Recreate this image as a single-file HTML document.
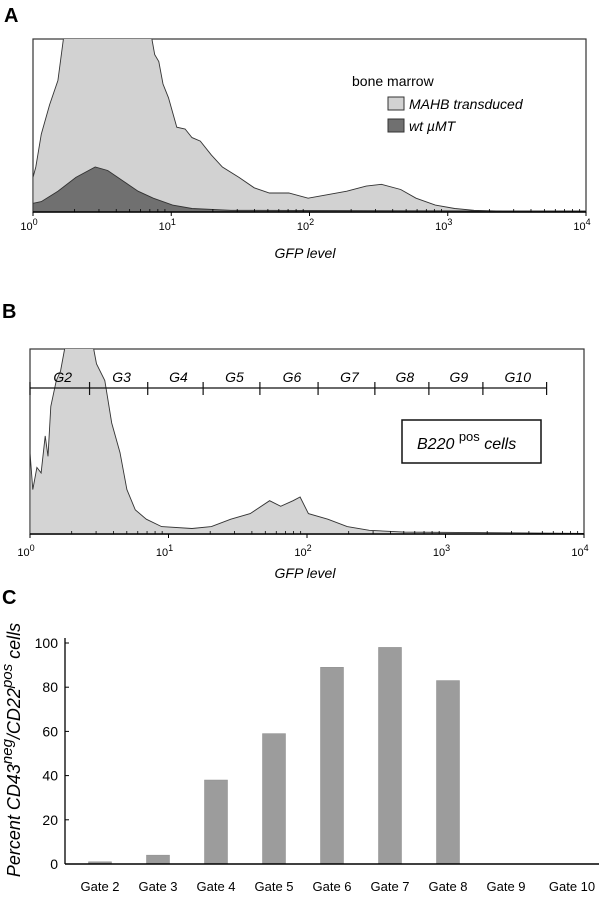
<!DOCTYPE html>
<html><head><meta charset="utf-8"><style>
body{margin:0;background:#fff;width:608px;height:900px;overflow:hidden}
svg{display:block;font-family:"Liberation Sans",sans-serif}
</style></head><body>
<svg id="fig" width="608" height="900" xmlns="http://www.w3.org/2000/svg">
<text x="4" y="22" font-size="20" font-weight="bold">A</text>
<text x="2" y="318" font-size="20" font-weight="bold">B</text>
<text x="2" y="604" font-size="20" font-weight="bold">C</text>
<g id="pa"></g>
<g id="pb"></g>
<g id="pc"></g>
</svg>
<script>
// Panel A data (x in decades of GFP level, y as fraction of plot height)
const aMahbX=[0,0.02,0.06,0.12,0.18,0.22,0.3,0.5,0.8,0.86,0.88,0.91,0.94,0.98,1.04,1.10,1.15,1.21,1.29,1.37,1.49,1.60,1.71,1.85,1.99,2.13,2.27,2.41,2.52,2.66,2.77,2.91,3.05,3.19,3.38,4];
const aMahbY=[0.2,0.26,0.45,0.62,0.76,1.0,1.3,1.4,1.2,1.0,0.91,0.87,0.74,0.66,0.49,0.48,0.43,0.41,0.33,0.26,0.2,0.14,0.11,0.11,0.08,0.10,0.12,0.15,0.16,0.13,0.08,0.04,0.02,0.01,0.005,0.005];
const aWtX=[0,0.06,0.18,0.31,0.45,0.54,0.65,0.76,0.87,1.01,1.15,1.43,4];
const aWtY=[0.05,0.06,0.12,0.2,0.26,0.24,0.18,0.12,0.08,0.04,0.02,0.01,0.005];
// Panel B data
const bX=[0,0.02,0.05,0.08,0.11,0.13,0.15,0.19,0.22,0.25,0.28,0.4,0.46,0.48,0.54,0.59,0.65,0.7,0.76,0.84,0.95,1.17,1.31,1.45,1.59,1.73,1.81,1.9,1.95,2.01,2.15,2.29,2.45,2.7,4];
const bY=[0.44,0.24,0.36,0.33,0.53,0.42,0.69,0.83,0.88,1.0,1.05,1.05,1.0,0.92,0.83,0.6,0.44,0.24,0.13,0.08,0.04,0.03,0.04,0.08,0.11,0.18,0.15,0.18,0.2,0.11,0.08,0.04,0.02,0.01,0.003];
const gateNames=["G2","G3","G4","G5","G6","G7","G8","G9","G10"];
const gateBounds=[0,0.43,0.85,1.25,1.66,2.08,2.49,2.88,3.27,3.73];
// Panel C data
const cCats=["Gate 2","Gate 3","Gate 4","Gate 5","Gate 6","Gate 7","Gate 8","Gate 9","Gate 10"];
const cVals=[1,4,38,59,89,98,83,0,0];
const cTicks=[0,20,40,60,80,100];
const decLabels=["0","1","2","3","4"];

const NS="http://www.w3.org/2000/svg";
function mk(parent,tag,attrs,name){const e=document.createElementNS(NS,tag);for(const k in attrs)e.setAttribute(k,attrs[k]);


parent.appendChild(e);return e;}

function logAxis(g,L,R,B,labY,pref){
  const sx=d=>L+(R-L)*d/4;
  mk(g,'line',{x1:L,y1:B,x2:R,y2:B,stroke:'#000','stroke-width':1.5},pref+'-x-axis');
  for(let d=0;d<4;d++){for(let m=2;m<10;m++){const x=sx(d+Math.log10(m));
    mk(g,'line',{x1:x,y1:B,x2:x,y2:B-3,stroke:'#000','stroke-width':0.8},pref+'-minor-tick');}}
  decLabels.forEach((s,i)=>{const x=sx(i);
    mk(g,'line',{x1:x,y1:B,x2:x,y2:B+4,stroke:'#000','stroke-width':1},pref+'-major-tick');
    const t=mk(g,'text',{x:x-4,y:labY,'font-size':11,'text-anchor':'middle'},pref+'-tick-label');
    t.textContent='10';const ts=mk(t,'tspan',{dy:-5,'font-size':9},pref+'-tick-exponent');ts.textContent=s;});
  return sx;
}
function area(g,xs,ys,sx,sy,B,fill,name){
  let d='M'+sx(xs[0])+','+B;
  xs.forEach((x,i)=>{d+=' L'+sx(x).toFixed(1)+','+sy(ys[i]).toFixed(1);});
  d+=' L'+sx(xs[xs.length-1])+','+B+' Z';
  mk(g,'path',{d:d,fill:fill,stroke:'#333','stroke-width':0.9,'clip-path':'url(#'+g.id+'clip)'},name);
}
// Panel A
(function(){
  const g=document.getElementById('pa');const L=33,R=586,T=39,B=212;
  const cp=mk(g,'clipPath',{id:'paclip'},'panel-a-clip');mk(cp,'rect',{x:L,y:T,width:R-L,height:B-T},'clip-rect');
  const sx=d=>L+(R-L)*d/4, sy=f=>B-(B-T)*f;
  mk(g,'rect',{x:L,y:T,width:R-L,height:B-T,fill:'#fff',stroke:'#333','stroke-width':1.2},'panel-a-frame');
  area(g,aMahbX,aMahbY,sx,sy,B,'#d2d2d2','mahb-transduced-series');
  area(g,aWtX,aWtY,sx,sy,B,'#707070','wt-umt-series');
  logAxis(g,L,R,B,230,'panel-a');
  const xt=mk(g,'text',{x:305,y:258,'font-size':14,'font-style':'italic','text-anchor':'middle'},'panel-a-x-axis-title');xt.textContent='GFP level';
  const lt=mk(g,'text',{x:352,y:86,'font-size':14},'legend-title');lt.textContent='bone marrow';
  mk(g,'rect',{x:388,y:97,width:16,height:13,fill:'#d2d2d2',stroke:'#333'},'legend-swatch-mahb');
  const l1=mk(g,'text',{x:409,y:109,'font-size':14,'font-style':'italic'},'legend-entry-mahb');l1.textContent='MAHB transduced';
  mk(g,'rect',{x:388,y:119,width:16,height:13,fill:'#707070',stroke:'#333'},'legend-swatch-wt');
  const l2=mk(g,'text',{x:409,y:131,'font-size':14,'font-style':'italic'},'legend-entry-wt');l2.textContent='wt \u00b5MT';
})();
// Panel B
(function(){
  const g=document.getElementById('pb');const L=30,R=584,T=349,B=534;
  const cp=mk(g,'clipPath',{id:'pbclip'},'panel-b-clip');mk(cp,'rect',{x:L,y:T,width:R-L,height:B-T},'clip-rect');
  const sx=d=>L+(R-L)*d/4, sy=f=>B-(B-T)*f;
  mk(g,'rect',{x:L,y:T,width:R-L,height:B-T,fill:'#fff',stroke:'#333','stroke-width':1.2},'panel-b-frame');
  area(g,bX,bY,sx,sy,B,'#d4d4d4','b220-series');
  logAxis(g,L,R,B,556,'panel-b');
  const gy=388;
  mk(g,'line',{x1:sx(gateBounds[0]),y1:gy,x2:sx(gateBounds[gateBounds.length-1]),y2:gy,stroke:'#111','stroke-width':1.3},'gate-line');
  gateBounds.forEach(b=>{mk(g,'line',{x1:sx(b),y1:gy-6,x2:sx(b),y2:gy+7,stroke:'#111','stroke-width':1.2},'gate-boundary');});
  gateNames.forEach((n,i)=>{const t=mk(g,'text',{x:(sx(gateBounds[i])+sx(gateBounds[i+1]))/2+3,y:382,'font-size':14,'font-style':'italic','text-anchor':'middle'},'gate-label');t.textContent=n;});
  mk(g,'rect',{x:402,y:420,width:139,height:43,fill:'#fff',stroke:'#111','stroke-width':1.5},'b220-label-box');
  const bt=mk(g,'text',{x:417,y:449,'font-size':16,'font-style':'italic'},'b220-label');
  bt.textContent='B220 ';const s1=mk(bt,'tspan',{dy:-8,'font-size':13,'font-style':'normal'},'b220-superscript');s1.textContent='pos';
  const s2=mk(bt,'tspan',{dy:8},'b220-cells');s2.textContent=' cells';
  const xt=mk(g,'text',{x:305,y:578,'font-size':14,'font-style':'italic','text-anchor':'middle'},'panel-b-x-axis-title');xt.textContent='GFP level';
})();
// Panel C
(function(){
  const g=document.getElementById('pc');const L=65,R=599,T=643,B=864,vmax=100;
  const n=cCats.length,step=(R-L-12)/n;
  const sx=i=>L+6+step*(i+0.5), sy=v=>B-(B-T)*v/vmax;
  mk(g,'line',{x1:L,y1:T-5,x2:L,y2:B,stroke:'#000','stroke-width':1.3},'panel-c-y-axis');
  cTicks.forEach(v=>{mk(g,'line',{x1:L,y1:sy(v),x2:L+4,y2:sy(v),stroke:'#000'},'panel-c-y-tick');
    const t=mk(g,'text',{x:L-7,y:sy(v)+5,'font-size':14,'text-anchor':'end'},'panel-c-y-tick-label');t.textContent=v;});
  cVals.forEach((v,i)=>{const h=B-sy(v);
    mk(g,'rect',{x:sx(i)-11.5,y:sy(v),width:23,height:h,fill:'#9c9c9c',stroke:'#8a8a8a','stroke-width':0.5},'bar-'+cCats[i].toLowerCase().replace(' ','-'));});
  mk(g,'line',{x1:L,y1:B,x2:R,y2:B,stroke:'#000','stroke-width':1.5},'panel-c-x-axis');
  cCats.forEach((c,i)=>{const t=mk(g,'text',{x:sx(i)+(i==8?8:0),y:891,'font-size':13,'text-anchor':'middle'},'panel-c-x-tick-label');t.textContent=c;});
  const yl=mk(g,'text',{x:0,y:0,'font-size':18,'font-style':'italic','text-anchor':'middle',transform:'translate(20,750) rotate(-90)'},'panel-c-y-axis-title');
  yl.textContent='Percent CD43';const a=mk(yl,'tspan',{dy:-8,'font-size':15},'y-title-sup-neg');a.textContent='neg';
  const b=mk(yl,'tspan',{dy:8},'y-title-mid');b.textContent='/CD22';
  const c2=mk(yl,'tspan',{dy:-8,'font-size':15},'y-title-sup-pos');c2.textContent='pos';
  const d=mk(yl,'tspan',{dy:8},'y-title-cells');d.textContent=' cells';
})();
</script>
</body></html>
